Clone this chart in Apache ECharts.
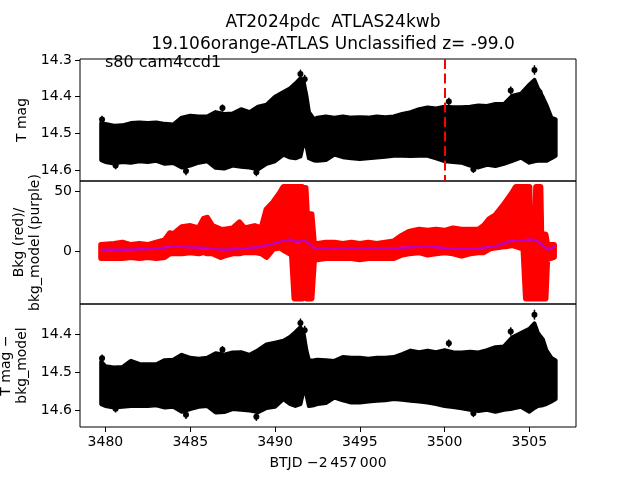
<!DOCTYPE html>
<html>
<head>
<meta charset="utf-8">
<script src="https://cdn.jsdelivr.net/npm/echarts@6/dist/echarts.min.js"></script>
<style>
  html, body { margin: 0; padding: 0; background: #fff; }
  #chart { width: 640px; height: 480px; }
</style>
</head>
<body>
<div id="chart"></div>
<script>
// time samples (BTJD - 2457000) for the light-curve envelopes
const lcTime = [3479.75, 3480.0, 3480.5, 3481.0, 3481.5, 3482.0, 3482.5, 3483.0, 3483.5, 3484.0,
  3484.5, 3485.0, 3485.5, 3486.0, 3486.5, 3487.0, 3487.5, 3488.0, 3488.5, 3489.0,
  3489.5, 3490.0, 3490.5, 3490.9, 3491.2, 3491.5, 3491.7, 3491.85, 3492.0, 3492.3,
  3492.5, 3493.0, 3493.5, 3494.0, 3494.5, 3495.0, 3495.5, 3496.0, 3496.5, 3497.0,
  3497.5, 3498.0, 3498.5, 3499.0, 3499.5, 3500.0, 3500.5, 3501.0, 3501.5, 3502.0,
  3502.5, 3503.0, 3503.5, 3504.0, 3504.5, 3505.0, 3505.3, 3505.5, 3505.8, 3506.0,
  3506.3, 3506.55];
// T mag, bright edge / faint edge of the point cloud
const magTop = [14.472, 14.474, 14.479, 14.478, 14.472, 14.470, 14.472, 14.470, 14.474, 14.476,
  14.457, 14.452, 14.454, 14.454, 14.442, 14.447, 14.446, 14.434, 14.442, 14.427,
  14.422, 14.400, 14.387, 14.377, 14.364, 14.350, 14.362, 14.397, 14.442, 14.462,
  14.457, 14.454, 14.457, 14.454, 14.457, 14.456, 14.457, 14.454, 14.456, 14.454,
  14.447, 14.442, 14.434, 14.429, 14.432, 14.427, 14.429, 14.429, 14.427, 14.424,
  14.425, 14.420, 14.420, 14.397, 14.392, 14.367, 14.354, 14.377, 14.402, 14.422,
  14.457, 14.462];
const magBot = [14.573, 14.578, 14.582, 14.578, 14.580, 14.576, 14.578, 14.575, 14.583, 14.581,
  14.593, 14.588, 14.580, 14.576, 14.594, 14.596, 14.588, 14.591, 14.593, 14.598,
  14.583, 14.576, 14.558, 14.566, 14.568, 14.563, 14.523, 14.533, 14.568, 14.574,
  14.575, 14.573, 14.558, 14.565, 14.568, 14.570, 14.568, 14.566, 14.564, 14.561,
  14.561, 14.562, 14.561, 14.561, 14.568, 14.576, 14.578, 14.580, 14.588, 14.593,
  14.586, 14.589, 14.583, 14.575, 14.566, 14.580, 14.576, 14.575, 14.575, 14.575,
  14.568, 14.561];
// T mag - bkg_model
const detTop = [14.472, 14.484, 14.487, 14.486, 14.470, 14.478, 14.479, 14.479, 14.468, 14.467,
  14.454, 14.462, 14.464, 14.462, 14.450, 14.454, 14.448, 14.447, 14.454, 14.442,
  14.427, 14.422, 14.417, 14.407, 14.395, 14.382, 14.402, 14.442, 14.469, 14.468,
  14.467, 14.468, 14.470, 14.460, 14.462, 14.462, 14.464, 14.462, 14.462, 14.460,
  14.452, 14.443, 14.447, 14.443, 14.447, 14.442, 14.447, 14.448, 14.446, 14.448,
  14.442, 14.434, 14.432, 14.408, 14.397, 14.386, 14.372, 14.397, 14.414, 14.442,
  14.462, 14.469];
const detBot = [14.583, 14.588, 14.592, 14.590, 14.588, 14.588, 14.588, 14.586, 14.592, 14.590,
  14.603, 14.596, 14.590, 14.588, 14.605, 14.604, 14.596, 14.598, 14.600, 14.604,
  14.593, 14.590, 14.570, 14.583, 14.588, 14.583, 14.544, 14.558, 14.588, 14.586,
  14.583, 14.580, 14.566, 14.573, 14.579, 14.579, 14.576, 14.574, 14.573, 14.570,
  14.572, 14.574, 14.576, 14.579, 14.583, 14.588, 14.591, 14.594, 14.598, 14.601,
  14.598, 14.603, 14.598, 14.595, 14.590, 14.603, 14.593, 14.588, 14.586, 14.583,
  14.576, 14.570];
// isolated points sticking out of the cloud, with their error bars
const outTime = [3479.8, 3480.6, 3484.75, 3486.9, 3488.9, 3491.5, 3491.75, 3500.25, 3501.7, 3503.9, 3505.3, 3505.6];
const outMag = [14.462, 14.588, 14.603, 14.431, 14.606, 14.338, 14.352, 14.413, 14.598, 14.383, 14.327, 14.388];
const outDet = [14.463, 14.595, 14.611, 14.441, 14.616, 14.371, 14.390, 14.424, 14.607, 14.393, 14.349, 14.410];
const outErr = [0.010, 0.010, 0.011, 0.010, 0.011, 0.012, 0.012, 0.010, 0.010, 0.011, 0.013, 0.011];

// background flux: envelope of the red points
const bkgTime = [3479.75, 3480.5, 3481.0, 3481.5, 3482.0, 3482.5, 3483.0, 3483.5, 3483.8, 3484.0,
  3484.5, 3485.0, 3485.5, 3485.8, 3486.0, 3486.3, 3486.8, 3487.0, 3487.5, 3487.9,
  3488.2, 3488.8, 3489.2, 3489.5, 3489.9, 3490.3, 3490.5, 3491.0, 3491.15, 3491.6,
  3491.65, 3491.8, 3491.88, 3492.15, 3492.3, 3492.5, 3493.0, 3493.5, 3494.0, 3494.5,
  3495.0, 3495.5, 3496.0, 3496.5, 3497.0, 3497.5, 3497.9, 3498.5, 3499.0, 3499.5,
  3500.0, 3500.5, 3501.0, 3501.5, 3502.0, 3502.3, 3502.65, 3503.0, 3503.5, 3503.6,
  3504.0, 3504.2, 3504.65, 3504.8, 3505.0, 3505.05, 3505.35, 3505.4, 3505.65, 3505.7,
  3505.95, 3506.05, 3506.45];
const bkgHigh = [5, 6, 7, 5, 6, 5, 7, 9, 15, 14,
  20, 21, 19, 27, 28, 21, 18, 18, 19, 24,
  19, 21, 19, 35, 41, 49, 54, 54, 54, 54,
  53, 53, 31, 31, 5, 6, 7, 7, 6, 7,
  6, 7, 6, 7, 8, 13, 16, 18, 17, 18,
  17, 19, 18, 18, 18, 21, 27, 30, 39, 41,
  49, 54, 54, 54, 54, 19, 19, 54, 54, 14,
  14, 5, 5];
const bkgLow = [-6, -6, -6, -5, -6, -5, -6, -5, -2, -2,
  -2, -1, -2, -1, -2, -2, -5, -4, -2, -2,
  -1, -1, -2, -5, 2, 3, 1, -3, -40, -40,
  38, 38, -40, -40, -7, -7, -6, -6, -6, -6,
  -7, -6, -6, -6, -6, -3, -2, -1, -3, -2,
  -1, -2, -4, -2, -1, -1, 2, 3, 4, 4,
  5, 4, 2, -40, -40, -40, -40, -40, -40, -40,
  -40, -7, -5];
// bkg_model (purple line)
const modelTime = [3479.75, 3481.0, 3483.0, 3484.0, 3485.0, 3486.0, 3487.0, 3488.0, 3489.0, 3489.9,
  3490.5, 3490.9, 3491.3, 3491.7, 3492.1, 3492.35, 3493.2, 3495.2, 3497.2, 3498.9,
  3500.1, 3501.1, 3502.1, 3503.0, 3503.8, 3504.6, 3505.2, 3505.5, 3506.1, 3506.55];
const modelVal = [1.1, 1.1, 1.9, 3.9, 3.1, 2.5, 1.1, 1.9, 3.4, 6.2,
  8.7, 9.6, 7.6, 9.0, 5.3, 1.9, 1.9, 1.9, 2.5, 3.9,
  2.5, 1.6, 2.5, 3.9, 8.1, 9.0, 9.6, 8.1, 1.1, 3.9];

const eventTime = 3500;
const xTicks = [3480, 3485, 3490, 3495, 3500, 3505];
const magTicks = [14.3, 14.4, 14.5, 14.6];
const bkgTicks = [0, 50];
const detTicks = [14.4, 14.5, 14.6];

const FONT = 'DejaVu Sans';

// filled envelope of the dense point cloud: upper edge left->right, lower edge back
function band(T, hi, lo, color, xi, edge) {
  return {
    type: 'custom', xAxisIndex: xi, yAxisIndex: xi, silent: true,
    data: [[T[0], hi[0]]],
    renderItem: (params, api) => {
      const pts = [];
      for (let i = 0; i < T.length; i++) pts.push(api.coord([T[i], hi[i]]));
      for (let i = T.length - 1; i >= 0; i--) pts.push(api.coord([T[i], lo[i]]));
      return { type: 'polygon', shape: { points: pts },
        style: { fill: color, stroke: color, lineWidth: edge, lineJoin: 'round' } };
    }
  };
}

// error-bar points: dot plus vertical bar
function errDots(T, v, err, xi) {
  return {
    type: 'custom', xAxisIndex: xi, yAxisIndex: xi, silent: true, z: 3,
    data: T.map((t, i) => [t, v[i], err[i]]),
    encode: { x: 0, y: 1 },
    renderItem: (params, api) => {
      const t = api.value(0), m = api.value(1), e = api.value(2);
      const c = api.coord([t, m]), a = api.coord([t, m - e]), b = api.coord([t, m + e]);
      return {
        type: 'group',
        children: [
          { type: 'line', shape: { x1: a[0], y1: a[1], x2: b[0], y2: b[1] }, style: { stroke: '#000', lineWidth: 1.5 } },
          { type: 'circle', shape: { cx: c[0], cy: c[1], r: 3 }, style: { fill: '#000' } }
        ]
      };
    }
  };
}

function xAx(gi, show) {
  return {
    type: 'value', gridIndex: gi, min: 3478.5, max: 3507.75,
    axisLine: { show: false }, splitLine: { show: false },
    axisTick: { show: show, length: 5, lineStyle: { color: '#000' }, customValues: xTicks },
    axisLabel: { show: show, color: '#000', fontSize: 14, fontFamily: FONT, margin: 8,
      customValues: xTicks, formatter: v => String(v) },
    name: show ? 'BTJD \u22122\u2009457\u2009000' : '', nameLocation: 'middle', nameGap: 29,
    nameTextStyle: { color: '#000', fontSize: 14, fontFamily: FONT }
  };
}

function yAx(gi, min, max, inverse, ticks, name, gap) {
  return {
    type: 'value', gridIndex: gi, min: min, max: max, inverse: inverse,
    axisLine: { show: false }, splitLine: { show: false },
    axisTick: { show: true, length: 5, lineStyle: { color: '#000' }, customValues: ticks },
    axisLabel: { color: '#000', fontSize: 14, fontFamily: FONT, margin: 8, customValues: ticks,
      formatter: v => String(v) },
    name: name, nameLocation: 'middle', nameRotate: 90, nameGap: gap,
    nameTextStyle: { color: '#000', fontSize: 14, fontFamily: FONT, lineHeight: 16 }
  };
}

const gridBase = { left: 80, width: 496, show: true, borderColor: '#000', borderWidth: 1,
  backgroundColor: 'transparent', containLabel: false, outerBoundsMode: 'none' };

const chart = echarts.init(document.getElementById('chart'), null, { renderer: 'canvas' });
chart.setOption({
  animation: false,
  backgroundColor: '#fff',
  title: {
    text: 'AT2024pdc  ATLAS24kwb\n19.106orange-ATLAS Unclassified z= -99.0',
    left: 328, top: 7, textAlign: 'center',
    textStyle: { color: '#000', fontSize: 17, fontWeight: 'normal', fontFamily: FONT, lineHeight: 22 }
  },
  graphic: [{
    type: 'text', left: 105, top: 55, z: 100,
    style: { text: 's80 cam4ccd1', fill: '#000', fontSize: 16, fontFamily: FONT }
  }],
  grid: [
    Object.assign({ top: 59, height: 122 }, gridBase),
    Object.assign({ top: 181, height: 123 }, gridBase),
    Object.assign({ top: 304, height: 123 }, gridBase)
  ],
  xAxis: [xAx(0, false), xAx(1, false), xAx(2, true)],
  yAxis: [
    yAx(0, 14.297, 14.63, true, magTicks, 'T mag', 35),
    yAx(1, -44.7, 59, false, bkgTicks, 'Bkg (red)/\nbkg_model (purple)', 29),
    yAx(2, 14.321, 14.643, true, detTicks, 'T mag \u2212\nbkg_model', 38)
  ],
  series: [
    Object.assign(band(lcTime, magTop, magBot, '#000', 0, 4), {
      markLine: {
        silent: true, symbol: 'none', label: { show: false },
        lineStyle: { color: '#ff0000', type: [10, 4.5], width: 2 },
        data: [{ xAxis: eventTime }]
      }
    }),
    errDots(outTime, outMag, outErr, 0),

    band(bkgTime, bkgHigh, bkgLow, '#ff0000', 1, 6),
    {
      type: 'line', xAxisIndex: 1, yAxisIndex: 1, silent: true, showSymbol: false, z: 5,
      lineStyle: { color: '#bf00bf', width: 2.5 },
      data: modelTime.map((t, i) => [t, modelVal[i]])
    },

    band(lcTime, detTop, detBot, '#000', 2, 4),
    errDots(outTime, outDet, outErr, 2)
  ]
});
</script>
</body>
</html>
